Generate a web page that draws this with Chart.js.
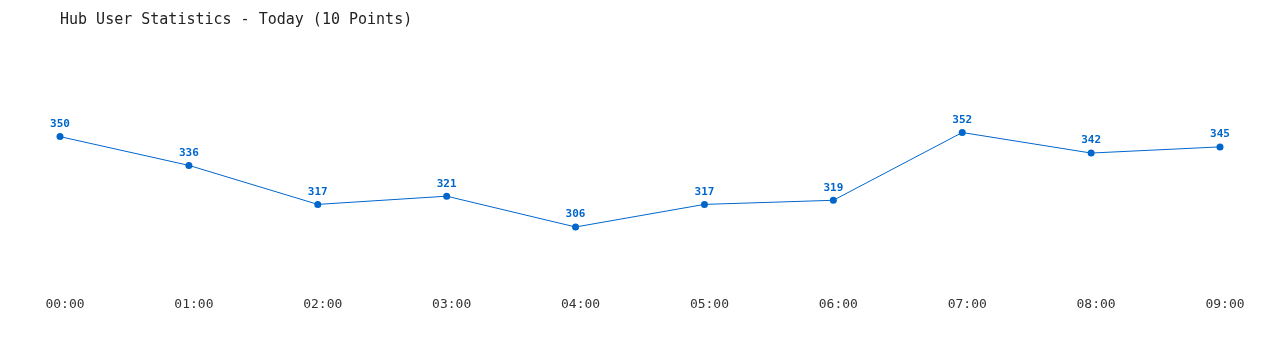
<!DOCTYPE html>
<html>
<head>
<meta charset="utf-8">
<script src="https://cdn.jsdelivr.net/npm/chart.js@4"></script>
<style>
  html, body { margin: 0; padding: 0; background: #fff; }
  #wrap { width: 1280px; height: 350px; }
</style>
</head>
<body>
<div id="wrap"><canvas id="hubChart"></canvas></div>
<script>
/* DATA */
const hours = ['00:00', '01:00', '02:00', '03:00', '04:00', '05:00', '06:00', '07:00', '08:00', '09:00'];
const users = [350, 336, 317, 321, 306, 317, 319, 352, 342, 345];
const chartTitle = 'Hub User Statistics - Today (10 Points)';

const blue = '#0066cc';
const mono = '"DejaVu Sans Mono", "Liberation Mono", monospace';

/* value labels above each point */
const pointLabels = {
  id: 'pointLabels',
  afterDatasetsDraw(chart) {
    const ctx = chart.ctx;
    const meta = chart.getDatasetMeta(0);
    ctx.save();
    ctx.font = 'bold 11px ' + mono;
    ctx.fillStyle = blue;
    ctx.textAlign = 'center';
    ctx.textBaseline = 'bottom';
    meta.data.forEach((pt, i) => {
      ctx.fillText(users[i], pt.x, pt.y - 7);
    });
    ctx.restore();
  }
};

const ctx = document.getElementById('hubChart').getContext('2d');

new Chart(ctx, {
  type: 'line',
  data: {
    labels: hours,
    datasets: [{
      data: users,
      borderColor: blue,
      backgroundColor: blue,
      borderWidth: 1,
      pointRadius: 3.5,
      pointBorderWidth: 0,
      tension: 0,
      fill: false
    }]
  },
  options: {
    responsive: true,
    maintainAspectRatio: false,
    animation: false,
    layout: {
      padding: { left: 60, right: 60, top: 0, bottom: 30 }
    },
    plugins: {
      legend: { display: false },
      tooltip: { enabled: false },
      title: {
        display: true,
        text: chartTitle,
        align: 'start',
        color: '#222',
        font: { family: mono, size: 15, weight: 'normal' },
        padding: { top: 11, bottom: 46 }
      }
    },
    scales: {
      x: {
        offset: false,
        grid: { display: false },
        border: { display: false },
        ticks: {
          color: '#333',
          font: { family: mono, size: 13 },
          padding: 8,
          labelOffset: 5,
          maxRotation: 0,
          autoSkip: false
        }
      },
      y: {
        display: false,
        min: 280,
        max: 380
      }
    }
  },
  plugins: [pointLabels]
});
</script>
</body>
</html>
